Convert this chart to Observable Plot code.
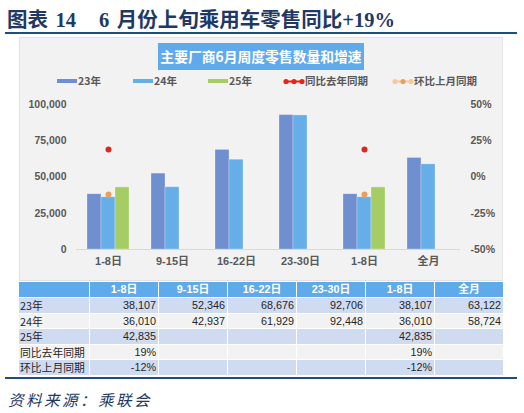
<!DOCTYPE html>
<html><head><meta charset="utf-8">
<script src="https://cdn.jsdelivr.net/npm/d3@7"></script>
<script src="https://cdn.jsdelivr.net/npm/@observablehq/plot@0.6"></script>
<style>
html,body{margin:0;padding:0;background:#fff;}
body{width:524px;height:413px;position:relative;overflow:hidden;font-family:"Liberation Sans","Noto Sans CJK SC",sans-serif;}
#title{position:absolute;left:7px;top:3px;font-family:"Liberation Serif","Noto Sans CJK SC",serif;font-weight:bold;font-size:20.5px;word-spacing:2.5px;color:#1F3864;white-space:pre;}
.hline{position:absolute;left:5px;width:512px;height:2px;background:#1F4E79;}
#panel{position:absolute;left:19px;top:37px;width:484px;height:244px;background:#F2F2F2;border:1px solid #E3E3E3;box-sizing:border-box;}
#ctitle{position:absolute;left:158px;top:43px;width:206px;height:27px;background:#5FAAEA;color:#fff;font-weight:bold;font-size:13.8px;line-height:27px;text-align:center;font-family:"Noto Sans CJK SC",sans-serif;}
#legend{position:absolute;top:74px;left:0;width:524px;height:14px;font-size:10.5px;font-weight:bold;color:#595959;font-family:"Noto Sans CJK SC",sans-serif;}
.li{position:absolute;top:0;height:14px;line-height:14px;white-space:nowrap;}
.sw{display:inline-block;width:20px;height:4px;vertical-align:middle;margin-right:1px;position:relative;top:-1px;}
#chart{position:absolute;left:19px;top:90px;}
#tbl{position:absolute;left:18px;top:281px;border-collapse:separate;border-spacing:1px;table-layout:fixed;background:#fff;}
#tbl td{padding:0 2px;height:14.5px;line-height:14.5px;font-size:10.8px;color:#262626;white-space:nowrap;overflow:hidden;}
#tbl tr.h td{background:#5FAAEA;color:#fff;font-weight:bold;text-align:center;height:15px;}
#tbl td.n{text-align:right;}
#tbl td.l{text-align:left;font-family:"Noto Sans CJK SC",sans-serif;padding-left:1px;}
#src{position:absolute;left:8px;top:388px;font-family:"Noto Sans CJK SC",sans-serif;font-style:italic;font-size:15.5px;letter-spacing:2.5px;color:#1F3864;}
</style></head>
<body>
<div id="title"></div>
<div class="hline" style="top:32px"></div>
<div id="panel"></div>
<div id="ctitle"></div>
<div id="legend"></div>
<div id="chart"></div>
<table id="tbl"></table>
<div class="hline" style="top:377px"></div>
<div id="src"></div>
<script>
// ---- data ----
const titleText = "图表 14   6 月份上旬乘用车零售同比+19%";
const chartTitle = "主要厂商6月周度零售数量和增速";
const sourceText = "资料来源：乘联会";
const weeks = ["1-8日", "9-15日", "16-22日", "23-30日", "1-8日", "全月"];
const series = ["23年", "24年", "25年"];
const v23 = [38107, 52346, 68676, 92706, 38107, 63122];
const v24 = [36010, 42937, 61929, 92448, 36010, 58724];
const v25 = [42835, null, null, null, 42835, null];
const yoy = [0.19, null, null, null, 0.19, null];
const mom = [-0.12, null, null, null, -0.12, null];
const yoyName = "同比去年同期";
const momName = "环比上月同期";
const leftTicks = [0, 25000, 50000, 75000, 100000];
const rightTicks = [-0.5, -0.25, 0, 0.25, 0.5];
const colors = {"23年": "#6F8FD1", "24年": "#66AEE8", "25年": "#A6CD63"};
const yoyColor = "#E3261C", momColor = "#E8A05E", momLine = "#F3C9A2";

// ---- text ----
document.getElementById("title").textContent = titleText;
document.getElementById("ctitle").textContent = chartTitle;
document.getElementById("src").textContent = sourceText;

// ---- legend ----
const lg = document.getElementById("legend");
const legendPos = [57, 133, 208, 283, 392];
series.forEach((s, k) => {
  const d = document.createElement("div");
  d.className = "li"; d.style.left = legendPos[k] + "px";
  d.innerHTML = `<span class="sw" style="background:${colors[s]}"></span>${s}`;
  lg.appendChild(d);
});
function dotLegend(x, name, line, dotc, endc) {
  const d = document.createElement("div");
  d.className = "li"; d.style.left = x + "px";
  d.innerHTML = `<svg width="22" height="14" style="vertical-align:top"><line x1="1" x2="21" y1="7.5" y2="7.5" stroke="${line}" stroke-width="2"/><circle cx="3" cy="7.5" r="2.6" fill="${endc}"/><circle cx="11" cy="7.5" r="2.6" fill="${dotc}"/><circle cx="19" cy="7.5" r="2.6" fill="${endc}"/></svg>${name}`;
  lg.appendChild(d);
}
dotLegend(283, yoyName, yoyColor, yoyColor, yoyColor);
dotLegend(392, momName, momLine, momColor, momLine);

// ---- chart ----
const toY = p => (p + 0.5) * 100000;
const bars = [];
weeks.forEach((w, i) => {
  [[series[0], v23], [series[1], v24], [series[2], v25]].forEach(([s, arr]) => {
    if (arr[i] != null) bars.push({i, series: s, value: arr[i]});
  });
});
const yoyRows = weeks.map((w, i) => ({i, v: yoy[i]})).filter(d => d.v != null);
const momRows = weeks.map((w, i) => ({i, v: mom[i]})).filter(d => d.v != null);

const plot = Plot.plot({
  width: 485, height: 186,
  marginTop: 14, marginBottom: 27, marginLeft: 54, marginRight: 42,
  style: {background: "transparent", fontFamily: "'Liberation Sans','Noto Sans CJK SC',sans-serif", fontSize: "10.5px", fontWeight: "bold", color: "#595959"},
  fx: {domain: d3.range(weeks.length), padding: 0, label: null, axis: null},
  x: {domain: series, paddingInner: 0, paddingOuter: 0.667, axis: null},
  y: {domain: [0, 100000], axis: null},
  marks: [
    Plot.barY(bars, {fx: "i", x: "series", y: "value", fill: d => colors[d.series], stroke: "#ffffff", strokeOpacity: 0.35, strokeWidth: 0.8, inset: 0}),
    Plot.ruleY([0], {stroke: "#D9D9D9", strokeWidth: 1}),
    Plot.dot(yoyRows, {fx: "i", x: () => series[1], y: d => toY(d.v), r: 3, fill: yoyColor}),
    Plot.dot(momRows, {fx: "i", x: () => series[1], y: d => toY(d.v), r: 3, fill: momColor}),
    Plot.axisY(leftTicks, {anchor: "left", tickSize: 0, tickPadding: 10, tickFormat: d3.format(","), label: null}),
    Plot.axisY(rightTicks.map(toY), {anchor: "right", tickSize: 0, tickPadding: 10, tickFormat: d => Math.round((d / 100000 - 0.5) * 100) + "%", label: null}),
    Plot.axisFx({anchor: "bottom", tickSize: 0, tickPadding: 8, tickFormat: i => weeks[i], label: null, fontSize: 11})
  ]
});
document.getElementById("chart").appendChild(plot);

// ---- table ----
const tbl = document.getElementById("tbl");
const cg = document.createElement("colgroup");
[70, 68, 68, 68, 68, 68, 68].forEach(w => { const c = document.createElement("col"); c.style.width = w + "px"; cg.appendChild(c); });
tbl.appendChild(cg);
const fmtN = d3.format(",");
const fmtP = p => Math.round(p * 100) + "%";
const hr = document.createElement("tr"); hr.className = "h";
hr.innerHTML = "<td></td>" + weeks.map(w => `<td>${w}</td>`).join("");
tbl.appendChild(hr);
const rows = [[series[0], v23, fmtN], [series[1], v24, fmtN], [series[2], v25, fmtN], [yoyName, yoy, fmtP], [momName, mom, fmtP]];
rows.forEach(([name, arr, f], r) => {
  const tr = document.createElement("tr");
  const bg = r % 2 === 0 ? "#CFDBF1" : "#F2F2F2";
  tr.innerHTML = `<td class="l" style="background:${bg}">${name}</td>` + arr.map(v => `<td class="n" style="background:${bg}">${v == null ? "" : f(v)}</td>`).join("");
  tbl.appendChild(tr);
});
</script>
</body></html>
